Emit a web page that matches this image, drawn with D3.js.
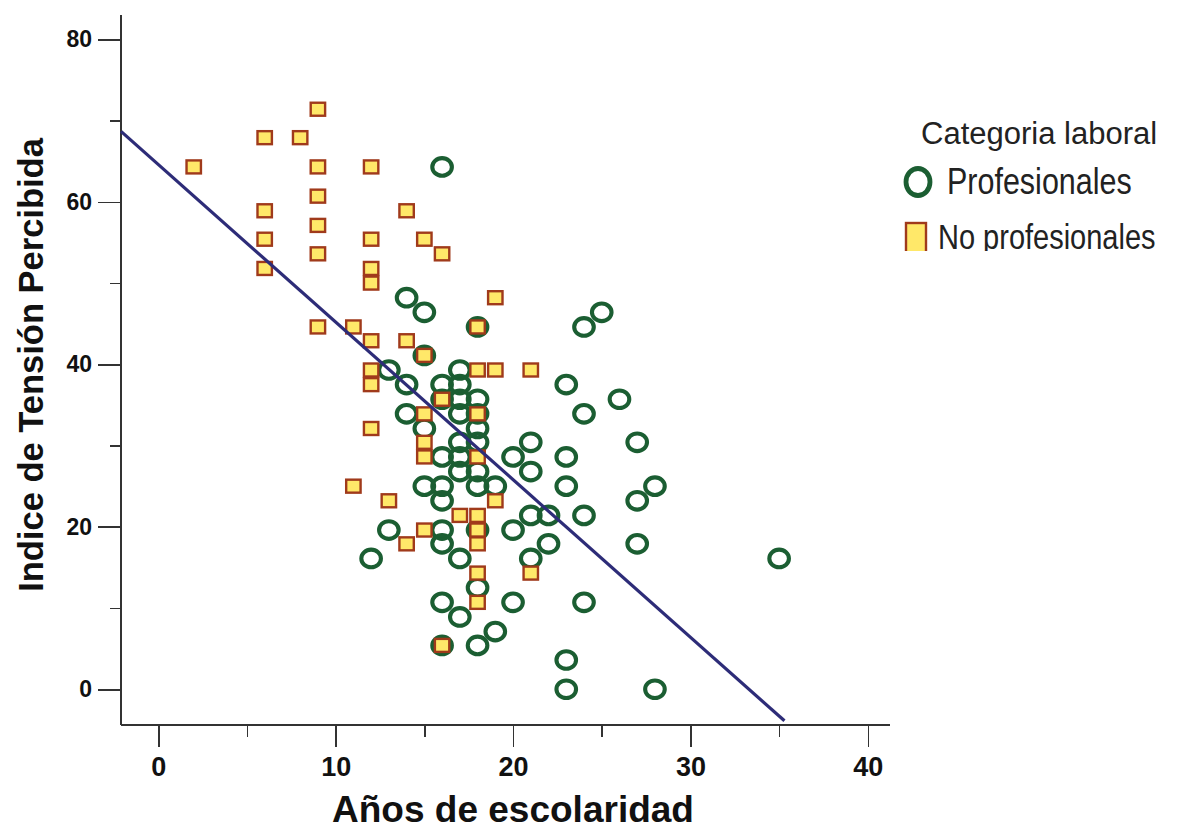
<!DOCTYPE html>
<html lang="es">
<head>
<meta charset="UTF-8">
<title>Indice de Tensión Percibida vs Años de escolaridad</title>
<script src="https://d3js.org/d3.v7.min.js"></script>
<style>
    html, body { margin: 0; padding: 0; background: #fff; }
    text { font-family: "Liberation Sans", Arial, sans-serif; fill: #111; }
    .axis path, .axis line { fill: none; stroke: #333; stroke-width: 1.6px; shape-rendering: crispEdges; }
</style>
</head>
<body>
<script>

// Profesionales: [años de escolaridad, indice]
var profX = [16,14,15,25,18,24,15,13,17,14,16,17,23,16,17,18,26,14,17,18,24,15,18,17,18,21,27,
             16,17,20,23,17,18,21,15,16,18,19,23,28,16,27,21,22,24,13,16,18,20,16,22,27,12,17,21,35,
             18,16,20,24,17,19,16,18,23,23,28];
var profY = [64.3,48.2,46.4,46.4,44.6,44.6,41.1,39.3,39.3,37.5,37.5,37.5,37.5,35.7,35.7,35.7,35.7,33.9,33.9,33.9,33.9,32.1,32.1,30.4,30.4,30.4,30.4,
             28.6,28.6,28.6,28.6,26.8,26.8,26.8,25.0,25.0,25.0,25.0,25.0,25.0,23.2,23.2,21.4,21.4,21.4,19.6,19.6,19.6,19.6,17.9,17.9,17.9,16.1,16.1,16.1,16.1,
             12.5,10.7,10.7,10.7,8.9,7.1,5.4,5.4,3.6,0,0];

// No profesionales
var noProfX = [2,6,8,9,6,6,6,9,9,9,9,9,11,12,12,12,12,12,12,12,12,14,15,16,19,14,15,18,18,19,21,
               16,15,18,15,15,18,11,13,19,17,18,18,18,15,14,18,21,18,16];
var noProfY = [64.3,67.9,67.9,71.4,58.9,55.4,51.8,64.3,60.7,57.1,53.6,44.6,44.6,64.3,55.4,51.8,50.0,42.9,39.3,37.5,32.1,58.9,55.4,53.6,48.2,42.9,41.1,44.6,39.3,39.3,39.3,
               35.7,33.9,33.9,30.4,28.6,28.6,25.0,23.2,23.2,21.4,21.4,19.6,17.9,19.6,17.9,14.3,14.3,10.7,5.4];

var xTicks = [0, 10, 20, 30, 40];
var yTicks = [0, 20, 40, 60, 80];
var xMinor = [5, 15, 25, 35];
var yMinor = [10, 30, 50, 70];

// recta de ajuste
var fitIntercept = 64.6;
var fitSlope = -1.94;
var fitXEnd = 35.3;

var legendTitle = "Categoria laboral";
var legendLabels = ["Profesionales", "No profesionales"];

var width = 1186, height = 830;
var plotLeft = 121, plotRight = 890, plotTop = 15, plotBottom = 725;

var svg = d3.select("body").append("svg").attr("width", width).attr("height", height);

var x = d3.scaleLinear().domain([-2.1, 41.25]).range([plotLeft, plotRight]);
var y = d3.scaleLinear().domain([-4.4, 83]).range([plotBottom, plotTop]);

// ejes
var xAxis = svg.append("g").attr("class", "axis x")
    .attr("transform", "translate(0," + plotBottom + ")")
    .call(d3.axisBottom(x).tickValues(xTicks).tickSize(22).tickSizeOuter(0).tickPadding(9).tickFormat(d3.format("d")));
xAxis.select(".domain").attr("d", "M" + plotLeft + ",0H" + plotRight);
xAxis.selectAll("text").style("font-size", "27px").style("font-weight", "bold").attr("dy", "0.74em");

svg.append("g").attr("class", "axis x-minor")
    .attr("transform", "translate(0," + plotBottom + ")")
    .call(d3.axisBottom(x).tickValues(xMinor).tickSize(12).tickFormat(""))
    .select(".domain").remove();

var yAxis = svg.append("g").attr("class", "axis y")
    .attr("transform", "translate(" + plotLeft + ",0)")
    .call(d3.axisLeft(y).tickValues(yTicks).tickSize(23).tickSizeOuter(0).tickPadding(6).tickFormat(d3.format("d")));
yAxis.select(".domain").attr("d", "M0," + plotTop + "V" + plotBottom);
yAxis.selectAll("text").style("font-size", "23px").style("font-weight", "bold");

svg.append("g").attr("class", "axis y-minor")
    .attr("transform", "translate(" + plotLeft + ",0)")
    .call(d3.axisLeft(y).tickValues(yMinor).tickSize(11).tickFormat(""))
    .select(".domain").remove();

// titulos
svg.append("text")
    .attr("x", 513).attr("y", 822)
    .attr("text-anchor", "middle")
    .style("font-size", "37px").style("font-weight", "bold")
    .text("Años de escolaridad");

svg.append("text")
    .attr("transform", "translate(43,365) rotate(-90)")
    .attr("text-anchor", "middle")
    .style("font-size", "34.5px").style("font-weight", "bold")
    .text("Indice de Tensión Percibida");

// puntos
var prof = profX.map(function(d, i) { return { x: d, y: profY[i] }; });
var noProf = noProfX.map(function(d, i) { return { x: d, y: noProfY[i] }; });

svg.append("g").selectAll("ellipse")
    .data(prof).enter().append("ellipse")
    .attr("cx", function(d) { return x(d.x); })
    .attr("cy", function(d) { return y(d.y); })
    .attr("rx", 9.8).attr("ry", 8.8)
    .attr("fill", "none")
    .attr("stroke", "#1b5e32")
    .attr("stroke-width", 4.1);

svg.append("g").selectAll("rect")
    .data(noProf).enter().append("rect")
    .attr("x", function(d) { return x(d.x) - 7.2; })
    .attr("y", function(d) { return y(d.y) - 6.5; })
    .attr("width", 14.4).attr("height", 13)
    .attr("fill", "#ffe869")
    .attr("stroke", "#a03a1b")
    .attr("stroke-width", 2.4);

// recta de ajuste
var line = d3.line().x(function(d) { return x(d); }).y(function(d) { return y(fitIntercept + fitSlope * d); });
svg.append("path")
    .attr("d", line([x.domain()[0], fitXEnd]))
    .attr("fill", "none")
    .attr("stroke", "#2d2c78")
    .attr("stroke-width", 3.2);

// leyenda
svg.append("clipPath").attr("id", "legclip")
    .append("rect").attr("x", 890).attr("y", 100).attr("width", 296).attr("height", 151);
var leg = svg.append("g").attr("clip-path", "url(#legclip)");

leg.append("text")
    .attr("x", 921).attr("y", 144)
    .style("font-size", "31px").style("fill", "#222")
    .text(legendTitle);

leg.append("ellipse")
    .attr("cx", 918).attr("cy", 182).attr("rx", 12).attr("ry", 13.5)
    .attr("fill", "none").attr("stroke", "#1b5e32").attr("stroke-width", 4.8);
leg.append("text")
    .attr("transform", "translate(947,194) scale(1,1.2)")
    .style("font-size", "30.5px").style("fill", "#222")
    .text(legendLabels[0]);

leg.append("rect")
    .attr("x", 906).attr("y", 223).attr("width", 20).attr("height", 30)
    .attr("fill", "#ffe869").attr("stroke", "#a03a1b").attr("stroke-width", 2.4);
leg.append("text")
    .attr("transform", "translate(938,249) scale(1,1.2)")
    .style("font-size", "29px").style("fill", "#222")
    .text(legendLabels[1]);

</script>
</body>
</html>
